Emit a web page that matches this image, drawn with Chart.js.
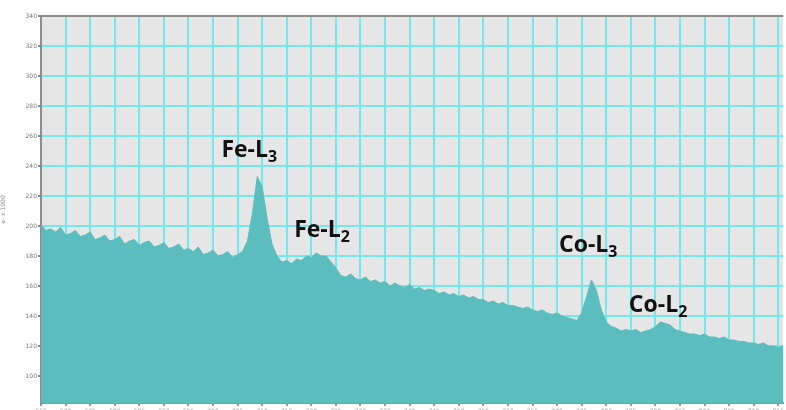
<!DOCTYPE html>
<html>
<head>
<meta charset="utf-8">
<script src="https://cdn.jsdelivr.net/npm/chart.js@4.4.1/dist/chart.umd.min.js"></script>
<style>
  html, body { margin: 0; padding: 0; background: #fff; overflow: hidden; }
  #wrap { width: 786px; height: 410px; }
</style>
</head>
<body>
<div id="wrap"><canvas id="myChart"></canvas></div>
<script>
// energy loss (eV), one channel per eV
var energy = [
	665, 666, 667, 668, 669, 670, 671, 672, 673, 674,
	675, 676, 677, 678, 679, 680, 681, 682, 683, 684,
	685, 686, 687, 688, 689, 690, 691, 692, 693, 694,
	695, 696, 697, 698, 699, 700, 701, 702, 703, 704,
	705, 706, 707, 708, 709, 710, 711, 712, 713, 714,
	715, 716, 717, 718, 719, 720, 721, 722, 723, 724,
	725, 726, 727, 728, 729, 730, 731, 732, 733, 734,
	735, 736, 737, 738, 739, 740, 741, 742, 743, 744,
	745, 746, 747, 748, 749, 750, 751, 752, 753, 754,
	755, 756, 757, 758, 759, 760, 761, 762, 763, 764,
	765, 766, 767, 768, 769, 770, 771, 772, 773, 774,
	775, 776, 777, 778, 779, 780, 781, 782, 783, 784,
	785, 786, 787, 788, 789, 790, 791, 792, 793, 794,
	795, 796, 797, 798, 799, 800, 801, 802, 803, 804,
	805, 806, 807, 808, 809, 810, 811, 812, 813, 814,
	815, 816
];
// counts (x 1000)
var counts = [
	201, 197, 198, 196, 199, 194, 195, 197, 193, 194,
	196, 191, 192, 194, 190, 191, 193, 188, 190, 191,
	187, 189, 190, 186, 187, 189, 185, 186, 188, 184,
	185, 183, 186, 181, 182, 184, 180, 181, 183, 179,
	181, 183, 190, 208, 233, 226, 205, 188, 180, 176,
	177, 175, 178, 177, 180, 179, 182, 180, 180, 176,
	172, 167, 166, 168, 165, 164, 166, 163, 164, 162,
	163, 160, 162, 160, 159, 161, 158, 159, 157, 158,
	157, 155, 156, 154, 155, 153, 154, 152, 153, 151,
	151, 149, 150, 148, 149, 147, 147, 146, 145, 146,
	144, 143, 144, 142, 141, 142, 140, 139, 138, 137,
	142, 153, 164, 157, 144, 136, 133, 132, 130, 131,
	130, 131, 129, 130, 131, 133, 136, 135, 134, 131,
	130, 129, 128, 128, 127, 128, 126, 126, 125, 126,
	124, 124, 123, 123, 122, 122, 121, 122, 120, 120,
	119, 120
];
var yTicks = [100, 120, 140, 160, 180, 200, 220, 240, 260, 280, 300, 320, 340];

// edge labels: main text, subscript, energy, counts (baseline)
var edgeNames = ["Fe-L", "Fe-L", "Co-L", "Co-L"];
var edgeSubs = ["3", "2", "3", "2"];
var edgeX = [701.7, 716.5, 770.4, 784.6];
var edgeY = [246, 193, 182.5, 143];

var points = [];
for (var i = 0; i < energy.length; i++) {
	points.push({ x: energy[i], y: counts[i] });
}

var plotBg = {
	id: "plotBg",
	beforeDraw: function (chart) {
		var a = chart.chartArea;
		var c = chart.ctx;
		c.save();
		c.fillStyle = "#e6e6e6";
		c.fillRect(a.left, a.top, a.right - a.left, a.bottom - a.top);
		c.restore();
	},
	afterDraw: function (chart) {
		var a = chart.chartArea;
		var c = chart.ctx;
		c.save();
		c.strokeStyle = "#8c8c8c";
		c.lineWidth = 2;
		c.beginPath();
		c.moveTo(a.left, a.top);
		c.lineTo(a.right, a.top);
		c.stroke();
		c.restore();
	},
};

var edgeLabels = {
	id: "edgeLabels",
	afterDatasetsDraw: function (chart) {
		var c = chart.ctx;
		var sx = chart.scales.x;
		var sy = chart.scales.y;
		c.save();
		c.fillStyle = "#111";
		c.textBaseline = "alphabetic";
		c.textAlign = "left";
		for (var i = 0; i < edgeNames.length; i++) {
			var px = sx.getPixelForValue(edgeX[i]);
			var py = sy.getPixelForValue(edgeY[i]);
			c.font = "bold 23px 'Open Sans', sans-serif";
			c.fillText(edgeNames[i], px, py);
			var w = c.measureText(edgeNames[i]).width;
			c.font = "bold 16px 'Open Sans', sans-serif";
			c.fillText(edgeSubs[i], px + w, py + 5);
		}
		c.restore();
	},
};

var ctx = document.getElementById("myChart").getContext("2d");
var myChart = new Chart(ctx, {
	type: "line",
	data: {
		datasets: [
			{
				data: points,
				borderColor: "#5bbdbd",
				borderWidth: 1,
				backgroundColor: "#5bbdbd",
				fill: "start",
				pointRadius: 0,
				tension: 0,
			},
		],
	},
	options: {
		responsive: true,
		maintainAspectRatio: false,
		animation: false,
		layout: { padding: { top: 16, right: 0, left: 0, bottom: 0 } },
		plugins: {
			legend: { display: false },
			tooltip: { enabled: false },
		},
		scales: {
			x: {
				type: "linear",
				min: 665,
				max: 816,
				afterFit: function (s) { s.height = 7; },
				border: { color: "#7a9f9f", width: 2 },
				grid: { color: "#72e8ec", lineWidth: 2, tickLength: 3, tickColor: "#999" },
				ticks: {
					stepSize: 5,
					includeBounds: false,
					maxRotation: 0,
					autoSkip: false,
					padding: 2,
					color: "#999",
					font: { size: 6, family: "DejaVu Sans" },
				},
			},
			y: {
				min: 82,
				max: 340,
				afterFit: function (s) { s.width = 41; },
				afterBuildTicks: function (s) {
					s.ticks = yTicks.map(function (v) { return { value: v }; });
				},
				border: { color: "#8c8c8c", width: 2 },
				grid: { color: "#72e8ec", lineWidth: 2, tickLength: 3, tickColor: "#888" },
				title: {
					display: true,
					text: "e- x 1000",
					color: "#888",
					font: { size: 6, family: "DejaVu Sans" },
					padding: { top: 0, bottom: 0 },
				},
				ticks: {
					padding: 1,
					color: "#777",
					font: { size: 6, family: "DejaVu Sans" },
				},
			},
		},
	},
	plugins: [plotBg, edgeLabels],
});
</script>
</body>
</html>
